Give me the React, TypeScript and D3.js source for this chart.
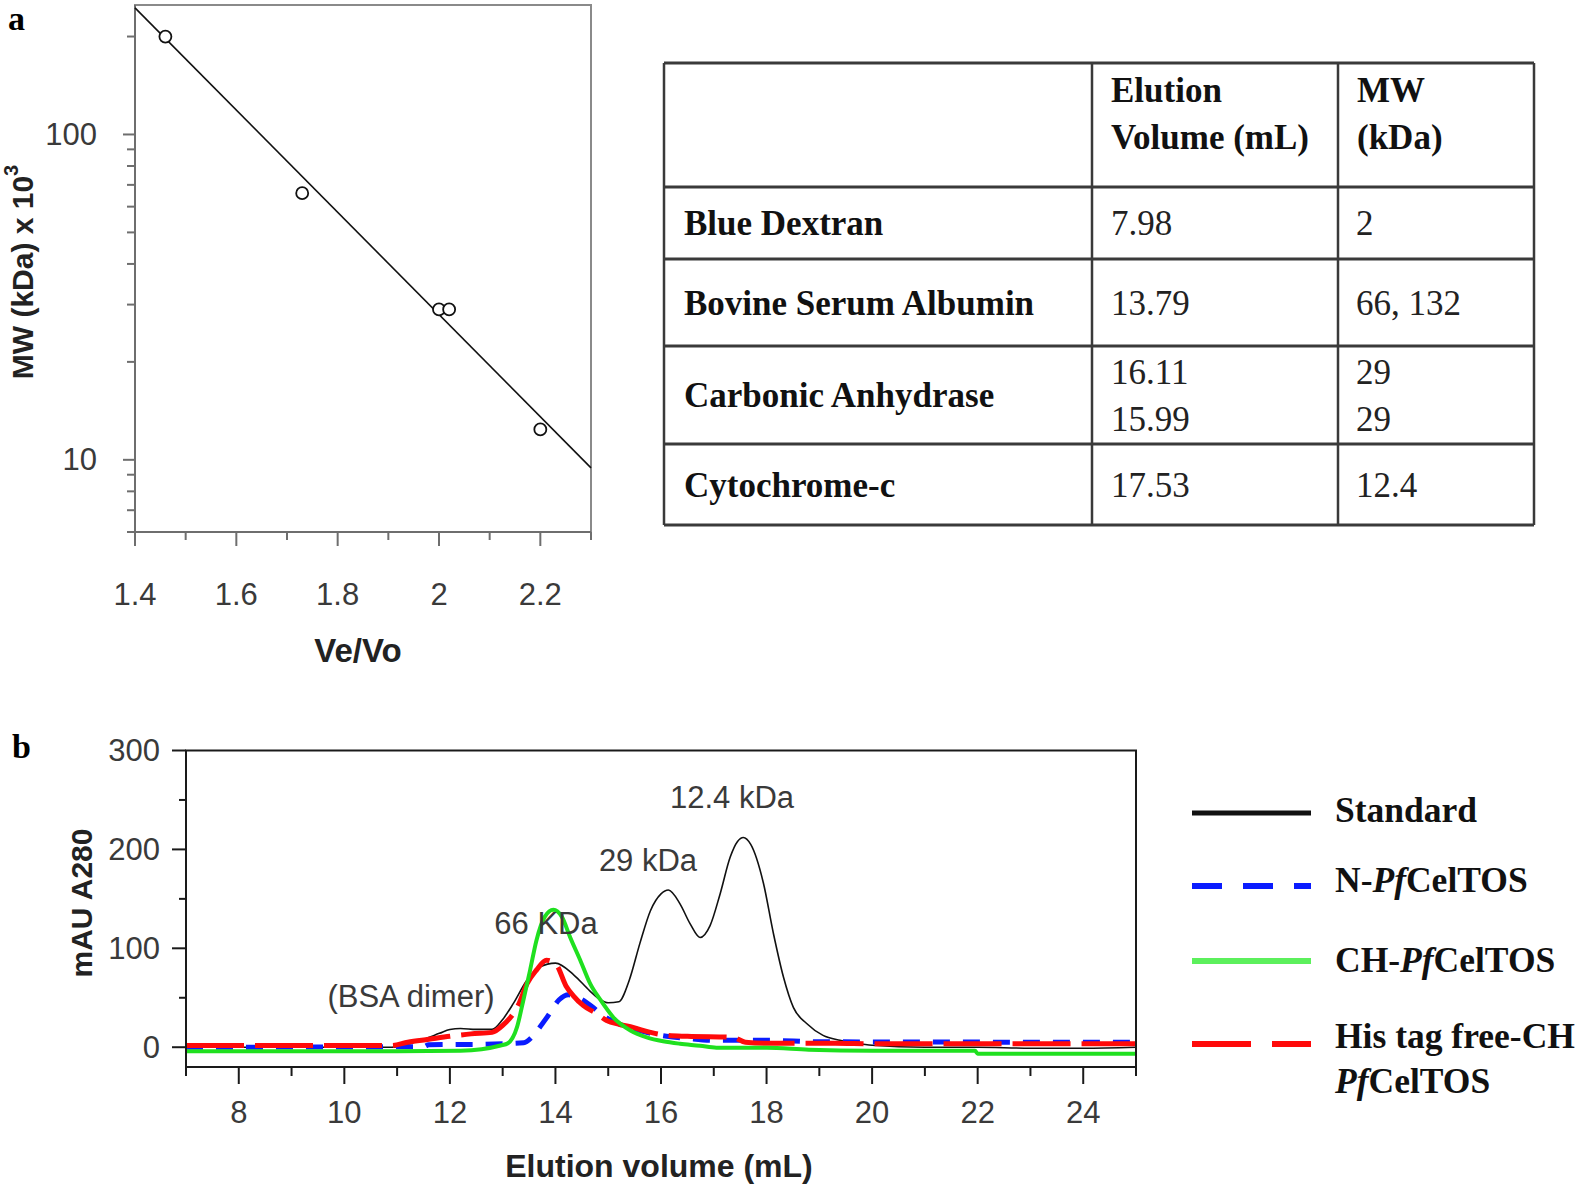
import * as d3 from "d3";

const SANS = "'Liberation Sans', Arial, sans-serif";
const SERIF = "'Liberation Serif', 'Times New Roman', serif";

// ---- panel a: calibration curve ----
const calVeVo = [1.46, 1.73, 2.0, 2.02, 2.2];
const calMW = [200, 66, 29, 29, 12.4];
const fitVeVo = [1.4, 2.3];
const fitMW = [245, 9.45];
const aXMajor = [1.4, 1.6, 1.8, 2.0, 2.2];
const aXLabels = ["1.4", "1.6", "1.8", "2", "2.2"];
const aXMinor = [1.5, 1.7, 1.9, 2.1, 2.3];
const aYMajor = [10, 100];
const aYMinor = [6, 7, 8, 9, 20, 30, 40, 50, 60, 70, 80, 90, 200];

// ---- table ----
const tableHeader = [["Elution", "Volume (mL)"], ["MW", "(kDa)"]];
const tableNames = ["Blue Dextran", "Bovine Serum Albumin", "Carbonic Anhydrase", "Cytochrome-c"];
const tableVolumes = [["7.98"], ["13.79"], ["16.11", "15.99"], ["17.53"]];
const tableMW = [["2"], ["66, 132"], ["29", "29"], ["12.4"]];

// ---- panel b: chromatograms ----
const stdVol = [7, 8, 9, 10, 10.9, 11.2, 11.5, 11.8, 12.0, 12.2, 12.5, 12.8, 13.0, 13.2, 13.45, 13.7, 14.0, 14.35, 14.65, 14.85, 15.0, 15.2, 15.4, 15.6, 15.8, 16.0, 16.14, 16.36, 16.55, 16.74, 16.93, 17.12, 17.31, 17.45, 17.56, 17.7, 17.94, 18.13, 18.32, 18.51, 18.76, 19.07, 19.39, 19.7, 20, 21, 22, 23, 24, 25];
const stdAbs = [0, 0, 0, 0, 0, 3, 8, 14, 18, 19, 18, 18, 28, 44, 67, 81, 85, 73, 57, 48, 45, 46, 68, 105, 138, 155, 159, 145, 125, 111, 123, 155, 192, 208, 212, 205, 166, 115, 71, 40, 24, 12, 7, 4, 2, 0, 0, -1, -1, 0];

const nVol = [7, 11.5, 11.6, 12.6, 13.4, 13.55, 13.7, 13.85, 14.07, 14.25, 14.4, 14.72, 14.85, 15.1, 15.4, 16.0, 16.5, 17.0, 18.0, 19.0, 25];
const nAbs = [0, 0.5, 2.5, 3, 4.5, 10, 20, 31, 48, 53, 51, 40, 34, 26, 20, 12, 9, 7, 7, 5.5, 5];

const chVol = [7, 9, 11, 12.2, 12.6, 12.96, 13.1, 13.27, 13.39, 13.52, 13.64, 13.8, 13.96, 14.12, 14.28, 14.47, 14.66, 14.85, 15.1, 15.42, 15.73, 16.04, 16.36, 16.74, 17.05, 18.0, 18.8, 20, 21.95, 22.0, 25];
const chAbs = [-4, -4, -4, -3.5, -2, 1.7, 4, 20, 47, 78, 108, 132, 139, 132, 111, 88, 64, 48, 30, 17, 10, 6, 3.5, 1.5, -0.5, -0.5, -2.5, -3.5, -3.5, -6.5, -6.5];

const hisVol = [7, 9, 10.9, 11.2, 11.6, 12.0, 12.4, 12.8, 13.0, 13.3, 13.46, 13.64, 13.83, 14.02, 14.2, 14.34, 14.53, 14.78, 14.97, 15.22, 15.47, 15.8, 16.1, 16.5, 17.36, 17.6, 18.0, 19.3, 20, 25];
const hisAbs = [1.7, 1.7, 1.7, 5, 8, 11, 13.5, 15, 22, 43, 64, 78, 88, 83, 62, 52, 42, 34, 27, 23, 20, 15, 12, 11, 10, 5, 4, 4, 3.5, 3.5];

const bXTicks = d3.range(7, 26, 1);
const bXLabels = [8, 10, 12, 14, 16, 18, 20, 22, 24];
const bYTicks = [0, 50, 100, 150, 200, 250, 300];
const bYLabels = [0, 100, 200, 300];

const annotations = [
  { text: "12.4 kDa", x: 732, y: 797 },
  { text: "29 kDa", x: 648, y: 860 },
  { text: "66 KDa", x: 546, y: 923 },
  { text: "(BSA dimer)", x: 411, y: 996 },
];

const series = [
  { key: "std", vol: stdVol, abs: stdAbs, color: "#111", width: 1.6, dash: "none" },
  { key: "n", vol: nVol, abs: nAbs, color: "#0a1cff", width: 5, dash: "17,13" },
  { key: "his", vol: hisVol, abs: hisAbs, color: "#ff0a0a", width: 5, dash: "58,11" },
  { key: "ch", vol: chVol, abs: chAbs, color: "#1fe01f", width: 4, dash: "none" },
];

export default function App() {
  // panel a scales
  const xA = d3.scaleLinear().domain([1.4, 2.3]).range([135, 591]);
  const yA = d3.scaleLog().domain([6, 250]).range([532, 5]);
  const fitLine = d3
    .line<number>()
    .x((_, i) => xA(fitVeVo[i]))
    .y((_, i) => yA(fitMW[i]))(fitVeVo);

  // panel b scales
  const xB = d3.scaleLinear().domain([7, 25]).range([186, 1136]);
  const yB = d3.scaleLinear().domain([-20, 300]).range([1067, 750.5]);
  const makeLine = (vol: number[], abs: number[]) =>
    d3
      .line<number>()
      .x((_, i) => xB(vol[i]))
      .y((_, i) => yB(abs[i]))
      .curve(d3.curveMonotoneX)(vol);

  const colX = [664, 1092, 1338, 1534];
  const rowY = [63, 187, 259, 346, 444, 525];
  const axisGray = "#6e6e6e";

  const legendItems = [
    { y: 813, color: "#111", dash: "none", w: 5 },
    { y: 886, color: "#0a1cff", dash: "30,21", w: 6 },
    { y: 961, color: "#5cf05c", dash: "none", w: 6 },
    { y: 1044, color: "#ff0a0a", dash: "59,21", w: 6 },
  ];

  return (
    <svg
      width={1590}
      height={1189}
      style={{ position: "absolute", left: 0, top: 0, background: "#fff" }}
    >
      {/* ---------- panel a ---------- */}
      <text x={8} y={30} fontFamily={SERIF} fontWeight="bold" fontSize={34}>a</text>
      <rect x={135} y={5} width={456} height={527} fill="none" stroke="#8a8a8a" strokeWidth={2} />
      <line x1={135} x2={135} y1={5} y2={532} stroke={axisGray} strokeWidth={2} />
      <line x1={135} x2={591} y1={532} y2={532} stroke={axisGray} strokeWidth={2} />
      {aYMajor.map((v) => (
        <g key={"aym" + v}>
          <line x1={123} x2={135} y1={yA(v)} y2={yA(v)} stroke={axisGray} strokeWidth={2} />
          <text x={97} y={yA(v)} textAnchor="end" dominantBaseline="central" fontFamily={SANS} fontSize={31} fill="#3a3a3a">{v}</text>
        </g>
      ))}
      {aYMinor.map((v) => (
        <line key={"ayn" + v} x1={127} x2={135} y1={yA(v)} y2={yA(v)} stroke={axisGray} strokeWidth={2} />
      ))}
      {aXMajor.map((v, i) => (
        <g key={"axm" + v}>
          <line x1={xA(v)} x2={xA(v)} y1={532} y2={546} stroke={axisGray} strokeWidth={2} />
          <text x={xA(v)} y={594} textAnchor="middle" dominantBaseline="central" fontFamily={SANS} fontSize={31} fill="#3a3a3a">{aXLabels[i]}</text>
        </g>
      ))}
      {aXMinor.map((v) => (
        <line key={"axn" + v} x1={xA(v)} x2={xA(v)} y1={532} y2={540} stroke={axisGray} strokeWidth={2} />
      ))}
      <path d={fitLine || ""} fill="none" stroke="#111" strokeWidth={1.6} />
      {calVeVo.map((v, i) => (
        <circle key={"pt" + i} cx={xA(v)} cy={yA(calMW[i])} r={6} fill="#fff" stroke="#111" strokeWidth={1.8} />
      ))}
      <text x={358} y={650} textAnchor="middle" dominantBaseline="central" fontFamily={SANS} fontWeight="bold" fontSize={33} fill="#222">Ve/Vo</text>
      <text transform="translate(22,272) rotate(-90)" textAnchor="middle" dominantBaseline="central" fontFamily={SANS} fontWeight="bold" fontSize={30} fill="#222">
        MW (kDa) x 10<tspan dy={-11} fontSize={20}>3</tspan>
      </text>

      {/* ---------- table ---------- */}
      {rowY.map((y, i) => (
        <line key={"tr" + i} x1={colX[0]} x2={colX[3]} y1={y} y2={y} stroke="#3a3a3a" strokeWidth={3} />
      ))}
      {colX.map((x, i) => (
        <line key={"tc" + i} x1={x} x2={x} y1={rowY[0]} y2={rowY[5]} stroke="#3a3a3a" strokeWidth={2.5} />
      ))}
      {tableHeader.map((lines, c) =>
        lines.map((t, k) => (
          <text key={"th" + c + k} x={colX[c + 1] + 19} y={101.5 + k * 47} fontFamily={SERIF} fontWeight="bold" fontSize={35} fill="#111">{t}</text>
        ))
      )}
      {tableNames.map((name, r) => {
        const mid = (rowY[r + 1] + rowY[r + 2]) / 2;
        const vols = tableVolumes[r];
        const mws = tableMW[r];
        const lineY = (k: number, n: number) => mid + 12 + (k - (n - 1) / 2) * 47;
        return (
          <g key={"row" + r}>
            <text x={colX[0] + 20} y={mid + 12} fontFamily={SERIF} fontWeight="bold" fontSize={35} fill="#111">{name}</text>
            {vols.map((t, k) => (
              <text key={"v" + k} x={colX[1] + 19} y={lineY(k, vols.length)} fontFamily={SERIF} fontSize={35} fill="#222">{t}</text>
            ))}
            {mws.map((t, k) => (
              <text key={"m" + k} x={colX[2] + 18} y={lineY(k, mws.length)} fontFamily={SERIF} fontSize={35} fill="#222">{t}</text>
            ))}
          </g>
        );
      })}

      {/* ---------- panel b ---------- */}
      <text x={12} y={758} fontFamily={SERIF} fontWeight="bold" fontSize={34}>b</text>
      <defs>
        <clipPath id="clipB">
          <rect x={186} y={750.5} width={950} height={316.5} />
        </clipPath>
      </defs>
      <g clipPath="url(#clipB)">
        {series.map((s) => (
          <path
            key={s.key}
            d={makeLine(s.vol, s.abs) || ""}
            fill="none"
            stroke={s.color}
            strokeWidth={s.width}
            strokeDasharray={s.dash}
            strokeLinejoin="round"
          />
        ))}
      </g>
      <rect x={186} y={750.5} width={950} height={316.5} fill="none" stroke="#1a1a1a" strokeWidth={2} />
      {bYTicks.map((v) => {
        const major = bYLabels.includes(v);
        return (
          <g key={"by" + v}>
            <line x1={major ? 172 : 179} x2={186} y1={yB(v)} y2={yB(v)} stroke="#1a1a1a" strokeWidth={2} />
            {major && (
              <text x={160} y={yB(v)} textAnchor="end" dominantBaseline="central" fontFamily={SANS} fontSize={31} fill="#3a3a3a">{v}</text>
            )}
          </g>
        );
      })}
      {bXTicks.map((v) => {
        const major = bXLabels.includes(v);
        return (
          <g key={"bx" + v}>
            <line x1={xB(v)} x2={xB(v)} y1={1067} y2={major ? 1084 : 1076} stroke="#1a1a1a" strokeWidth={2} />
            {major && (
              <text x={xB(v)} y={1112} textAnchor="middle" dominantBaseline="central" fontFamily={SANS} fontSize={31} fill="#3a3a3a">{v}</text>
            )}
          </g>
        );
      })}
      <text transform="translate(81,903) rotate(-90)" textAnchor="middle" dominantBaseline="central" fontFamily={SANS} fontWeight="bold" fontSize={30} fill="#222">mAU A280</text>
      <text x={659} y={1166} textAnchor="middle" dominantBaseline="central" fontFamily={SANS} fontWeight="bold" fontSize={32} fill="#222">Elution volume (mL)</text>
      {annotations.map((a) => (
        <text key={a.text} x={a.x} y={a.y} textAnchor="middle" dominantBaseline="central" fontFamily={SANS} fontSize={31} fill="#3a3a3a">{a.text}</text>
      ))}

      {/* legend */}
      {legendItems.map((l, i) => (
        <line key={"lg" + i} x1={1192} x2={1311} y1={l.y} y2={l.y} stroke={l.color} strokeWidth={l.w} strokeDasharray={l.dash} />
      ))}
      <g fontFamily={SERIF} fontWeight="bold" fontSize={35.5} fill="#111">
        <text x={1335} y={822}>Standard</text>
        <text x={1335} y={892}>N-<tspan fontStyle="italic">Pf</tspan>CelTOS</text>
        <text x={1335} y={972}>CH-<tspan fontStyle="italic">Pf</tspan>CelTOS</text>
        <text x={1335} y={1048}>His tag free-CH</text>
        <text x={1335} y={1093}><tspan fontStyle="italic">Pf</tspan>CelTOS</text>
      </g>
    </svg>
  );
}
